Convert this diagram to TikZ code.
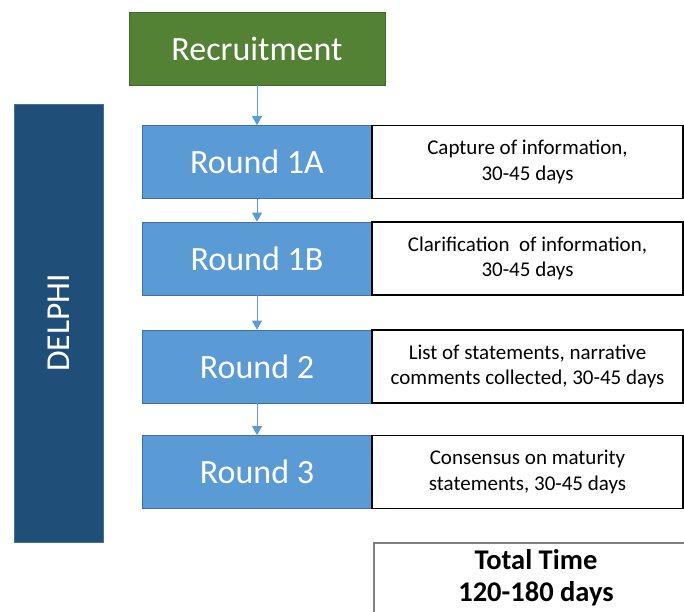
\documentclass[tikz,border=0pt]{standalone}
\usepackage{fontspec}
\setmainfont{Carlito}
\usetikzlibrary{arrows.meta}

\definecolor{recgreen}{HTML}{548235}
\definecolor{recedge}{HTML}{3E6A28}
\definecolor{stageblue}{HTML}{5B9BD5}
\definecolor{stageedge}{HTML}{41719C}
\definecolor{delphiblue}{HTML}{1F4E79}
\definecolor{totalgray}{HTML}{7F7F7F}

\begin{document}
\begin{tikzpicture}[x=1pt, y=-1pt,
    stagebox/.style={draw=stageedge, line width=0.8pt, fill=stageblue, text=white,
      minimum width=230pt, minimum height=73pt, inner sep=0pt,
      font=\fontsize{34}{40}\selectfont},
    notebox/.style={draw=black, line width=1.6pt, fill=white,
      minimum width=311pt, minimum height=73pt, inner sep=0pt, align=center,
      font=\fontsize{21}{25.7}\selectfont},
    flow/.style={stageblue, line width=0.9pt, -{Triangle[width=10pt,length=9pt]}}]
        % \draw[help lines, gray!50, very thin] (0,0) grid[step=50] (684,611);
        \clip (0,0) rectangle (684,611);

        \node[draw=recedge, line width=0.8pt, fill=recgreen, text=white,
          minimum width=256pt, minimum height=73pt, inner sep=0pt,
          font=\fontsize{34}{40}\selectfont] (rec) at (257,48.5) {Recruitment};

        \node[rotate=90, draw=stageedge, line width=0.8pt, fill=delphiblue, text=white,
          minimum width=438pt, minimum height=89pt, inner sep=0pt,
          font=\fontsize{33.5}{40}\selectfont] (delphi) at (58.5,323) {DELPHI};

        % the four rounds
        \node[stagebox] (r1a) at (257,162) {Round 1A};
        \node[stagebox] (r1b) at (257,258.5) {Round 1B};
        \node[stagebox] (r2) at (257,366.5) {Round 2};
        \node[stagebox] (r3) at (257,472) {Round 3};

        % what each round does
        \node[notebox] (n1a) at (527.5,162) {Capture of information,\\30-45 days};
        \node[notebox] (n1b) at (527.5,258.5) {Clarification~ of information,\\30-45 days};
        \node[notebox] (n2) at (527.5,366.5) {List of statements, narrative\\comments collected, 30-45 days};
        \node[notebox] (n3) at (527.5,472) {Consensus on maturity\\statements, 30-45 days};

        \node[draw=totalgray, line width=1.6pt, fill=white,
          minimum width=324pt, minimum height=70pt, inner sep=0pt, align=center,
          font=\bfseries\fontsize{28.5}{31.7}\selectfont] (total) at (536,578)
          {Total Time\\120-180 days};

        \draw[flow] (rec) -- (r1a);
        \draw[flow] (r1a) -- (r1b);
        \draw[flow] (r1b) -- (r2);
        \draw[flow] (r2) -- (r3);
      \end{tikzpicture}
\end{document}
